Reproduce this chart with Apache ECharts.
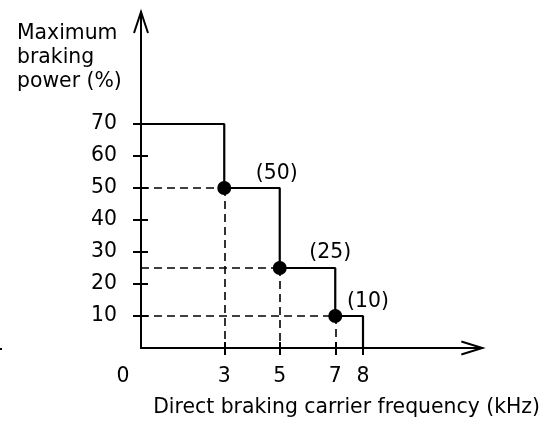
<!DOCTYPE html>
<html>
<head>
<meta charset="utf-8">
<script src="https://cdn.jsdelivr.net/npm/echarts@6/dist/echarts.min.js"></script>
<style>
  html, body { margin: 0; padding: 0; background: #fff; }
  #chart { width: 553px; height: 421px; }
</style>
</head>
<body>
<div id="chart"></div>
<script>
// Braking power limit as a staircase over carrier frequency
const stepFreq = [0, 3, 5, 7, 8];
const stepPower = [70, 50, 25, 10, 0];

// Corner points marked with dots (guide lines drop to both axes)
const dotFreq = [3, 5, 7];
const dotPower = [50, 25, 10];

// Bracketed values written at the end of each level
const noteFreq = [5, 7, 8];
const notePower = [50, 25, 10];
const noteOffset = [[-3, -14], [-5, -15], [5, -14]];

// Axis ticks and labels
const yTicks = [10, 20, 30, 40, 50, 60, 70];
const xTicks = [3, 5, 7, 8];
const xLabels = [0, 3, 5, 7, 8];

const X_MAX = 12.3;
const Y_MAX = 105;
const FONT = 'DejaVu Sans';
const FONT_SIZE = 20.4;
const INK = '#000';

const chart = echarts.init(document.getElementById('chart'), null, { renderer: 'canvas' });

const guideLines = [];
dotFreq.forEach((f, i) => {
  const p = dotPower[i];
  guideLines.push([{ coord: [0, p] }, { coord: [f, p] }]);
  guideLines.push([{ coord: [f, p] }, { coord: [f, 0] }]);
});

const axisText = { color: INK, fontFamily: FONT, fontSize: FONT_SIZE };
const cssFont = FONT_SIZE + 'px "' + FONT + '"';

chart.setOption({
  animation: false,
  grid: { left: 141, right: 553 - 141 - X_MAX * 27.75, top: 348 - Y_MAX * 3.2, bottom: 73 },
  xAxis: [
    {
      type: 'value', min: 0, max: X_MAX,
      axisLine: { show: true, lineStyle: { color: INK, width: 2 } },
      axisTick: { show: true, length: 7, lineStyle: { color: INK, width: 2 }, customValues: xTicks },
      axisLabel: {
        ...axisText, margin: 19, customValues: xLabels,
        formatter: v => v === 0 ? '{z|0}' : String(v),
        rich: { z: { ...axisText, padding: [0, 36, 0, 0] } }
      },
      splitLine: { show: false }
    },
    {
      type: 'value', min: 0, max: X_MAX, position: 'bottom',
      axisLine: { show: false },
      axisTick: { show: true, inside: true, length: 6, lineStyle: { color: INK, width: 2 }, customValues: xTicks },
      axisLabel: { show: false },
      splitLine: { show: false }
    }
  ],
  yAxis: [
    {
      type: 'value', min: 0, max: Y_MAX,
      axisLine: { show: true, lineStyle: { color: INK, width: 2 } },
      axisTick: { show: true, length: 8, lineStyle: { color: INK, width: 2 }, customValues: yTicks },
      axisLabel: { ...axisText, margin: 24, customValues: yTicks },
      splitLine: { show: false }
    },
    {
      type: 'value', min: 0, max: Y_MAX, position: 'left',
      axisLine: { show: false },
      axisTick: { show: true, inside: true, length: 7, lineStyle: { color: INK, width: 2 }, customValues: yTicks },
      axisLabel: { show: false },
      splitLine: { show: false }
    }
  ],
  series: [
    {
      type: 'line',
      step: 'end',
      data: stepFreq.map((f, i) => [f, stepPower[i]]),
      symbol: 'none',
      lineStyle: { color: INK, width: 2.2 },
      z: 3
    },
    {
      type: 'scatter',
      data: dotFreq.map((f, i) => [f, dotPower[i]]),
      symbol: 'circle',
      symbolSize: 14,
      itemStyle: { color: INK, opacity: 1 },
      z: 4,
      markLine: {
        silent: true,
        symbol: ['none', 'none'],
        label: { show: false },
        lineStyle: { color: INK, width: 1.6, type: [8, 5], opacity: 1 },
        data: guideLines
      }
    },
    {
      type: 'scatter',
      data: noteFreq.map((f, i) => ({
        value: [f, notePower[i]],
        label: { offset: noteOffset[i] }
      })),
      symbolSize: 0,
      itemStyle: { color: INK, opacity: 1 },
      label: {
        show: true,
        position: 'inside',
        ...axisText,
        formatter: p => '(' + p.value[1] + ')'
      },
      z: 5
    }
  ]
});

// Open arrowheads at the ends of both axes, plus axis titles
const yTip = chart.convertToPixel({ gridIndex: 0 }, [0, Y_MAX]);
const xTip = chart.convertToPixel({ gridIndex: 0 }, [X_MAX, 0]);
const arrowStyle = { stroke: INK, lineWidth: 2, fill: null };

chart.setOption({
  graphic: [
    {
      type: 'polyline', silent: true,
      shape: { points: [[yTip[0] - 7, yTip[1] + 21], [yTip[0], yTip[1]], [yTip[0] + 7, yTip[1] + 21]] },
      style: arrowStyle
    },
    {
      type: 'polyline', silent: true,
      shape: { points: [[xTip[0] - 21, xTip[1] - 6.5], [xTip[0], xTip[1]], [xTip[0] - 21, xTip[1] + 6.5]] },
      style: arrowStyle
    },
    {
      type: 'text', silent: true, x: 17, y: 22,
      style: {
        text: 'Maximum\nbraking\npower (%)',
        fill: INK, font: cssFont, lineHeight: 24,
        textAlign: 'left', textVerticalAlign: 'top'
      }
    },
    {
      type: 'text', silent: true, x: 540, y: 408,
      style: {
        text: 'Direct braking carrier frequency (kHz)',
        fill: INK, font: cssFont,
        textAlign: 'right', textVerticalAlign: 'middle'
      }
    },
    {
      type: 'rect', silent: true,
      shape: { x: 0, y: 348, width: 2, height: 2 },
      style: { fill: INK }
    }
  ]
});
</script>
</body>
</html>
